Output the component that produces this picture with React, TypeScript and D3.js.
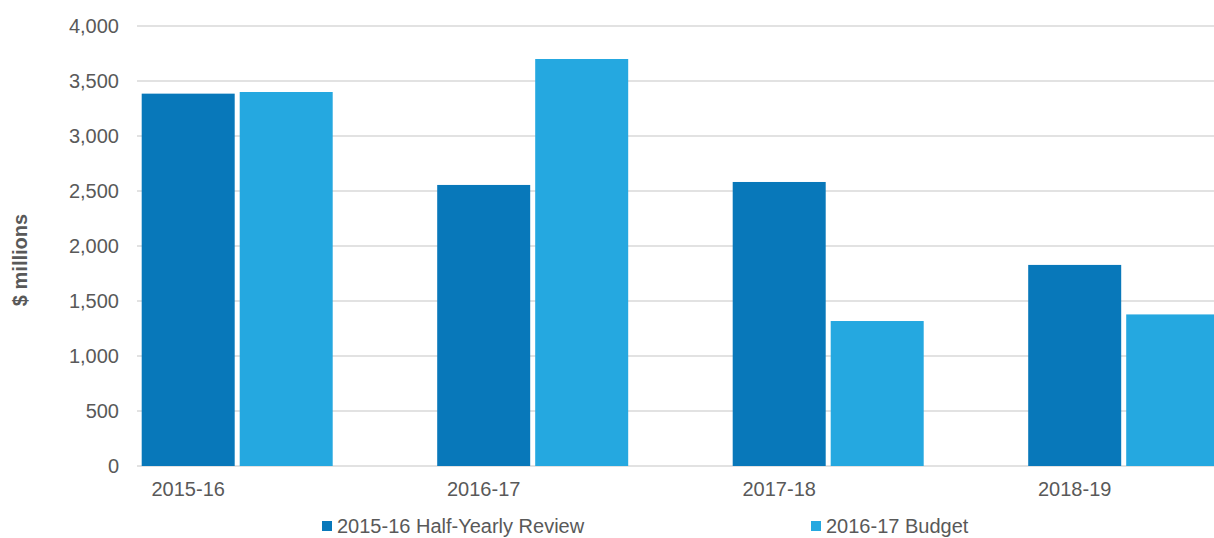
import * as d3 from 'd3';
import { useEffect, useRef } from 'react';

const categories = ['2015-16', '2016-17', '2017-18', '2018-19'];
const seriesNames = ['2015-16 Half-Yearly Review', '2016-17 Budget'];
const halfYearlyReview = [3385, 2555, 2582, 1828];
const budget2016 = [3400, 3700, 1318, 1378];
const yTicks = [0, 500, 1000, 1500, 2000, 2500, 3000, 3500, 4000];

const colors = ['#0878BA', '#25A8E0'];
const textColor = '#595959';
const font = '"Liberation Sans", Arial, sans-serif';
const fontSize = 20;

const App = () => {
  const ref = useRef<SVGSVGElement>(null);

  useEffect(() => {
    const width = 1214,
      height = 538;
    const svg = d3.select(ref.current);
    svg.selectAll('*').remove();

    const y = d3.scaleLinear().domain([0, 4000]).range([466, 26]);
    const step = 295.5;
    const x0 = d3
      .scaleBand()
      .domain(categories)
      .range([141.7, 141.7 + step * categories.length]);
    const x1 = d3.scaleBand().domain(seriesNames).range([0, 191]).paddingInner(0.051);

    // gridlines
    svg
      .append('g')
      .selectAll('line')
      .data(yTicks)
      .enter()
      .append('line')
      .attr('x1', 137)
      .attr('x2', width)
      .attr('y1', (d) => y(d))
      .attr('y2', (d) => y(d))
      .attr('stroke', '#d9d9d9')
      .attr('stroke-width', 1.6);

    // y tick labels
    svg
      .append('g')
      .selectAll('text')
      .data(yTicks)
      .enter()
      .append('text')
      .attr('x', 119)
      .attr('y', (d) => y(d))
      .attr('dy', '0.35em')
      .attr('text-anchor', 'end')
      .attr('font-family', font)
      .attr('font-size', fontSize)
      .attr('fill', textColor)
      .text((d) => d3.format(',')(d));

    const rows = categories.map((c, i) => ({
      cat: c,
      vals: [
        { key: seriesNames[0], value: halfYearlyReview[i] },
        { key: seriesNames[1], value: budget2016[i] },
      ],
    }));

    svg
      .append('g')
      .selectAll('g')
      .data(rows)
      .enter()
      .append('g')
      .attr('transform', (d) => 'translate(' + x0(d.cat) + ',0)')
      .selectAll('rect')
      .data((d) => d.vals)
      .enter()
      .append('rect')
      .attr('x', (d) => x1(d.key)!)
      .attr('y', (d) => y(d.value))
      .attr('width', x1.bandwidth())
      .attr('height', (d) => y(0) - y(d.value))
      .attr('fill', (d, i) => colors[i]);

    // category labels
    svg
      .append('g')
      .selectAll('text')
      .data(categories)
      .enter()
      .append('text')
      .attr('x', (d) => x0(d)! + x1(seriesNames[0])! + x1.bandwidth() / 2)
      .attr('y', 489)
      .attr('dy', '0.35em')
      .attr('text-anchor', 'middle')
      .attr('font-family', font)
      .attr('font-size', fontSize)
      .attr('fill', textColor)
      .text((d) => d);

    // y axis title
    svg
      .append('text')
      .attr('transform', 'translate(20,260) rotate(-90)')
      .attr('dy', '0.35em')
      .attr('text-anchor', 'middle')
      .attr('font-family', font)
      .attr('font-size', fontSize)
      .attr('font-weight', 'bold')
      .attr('fill', textColor)
      .text('$ millions');

    // legend
    const legendX = [322, 811];
    const legend = svg
      .append('g')
      .selectAll('g')
      .data(seriesNames)
      .enter()
      .append('g')
      .attr('transform', (d, i) => 'translate(' + legendX[i] + ',526)');
    legend
      .append('rect')
      .attr('x', 0)
      .attr('y', -5)
      .attr('width', 10)
      .attr('height', 10)
      .attr('fill', (d, i) => colors[i]);
    legend
      .append('text')
      .attr('x', 15)
      .attr('y', 0)
      .attr('dy', '0.35em')
      .attr('font-family', font)
      .attr('font-size', fontSize)
      .attr('fill', textColor)
      .text((d) => d);

    svg.attr('width', width).attr('height', height);
  }, []);

  return (
    <div style={{ position: 'absolute', left: 0, top: 0 }}>
      <svg ref={ref} width={1214} height={538} style={{ display: 'block', background: '#fff' }}></svg>
    </div>
  );
};

export default App;
